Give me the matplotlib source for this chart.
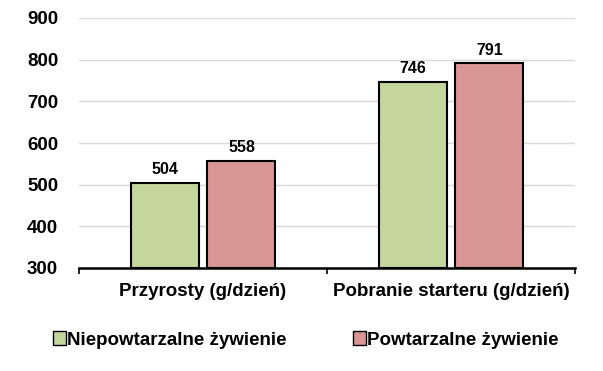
import numpy as np
from matplotlib import pyplot as plt
from matplotlib.patches import Patch

categories = ["Przyrosty (g/dzień)", "Pobranie starteru (g/dzień)"]
series_names = ["Niepowtarzalne żywienie", "Powtarzalne żywienie"]
values_a = [504, 746]
values_b = [558, 791]
yticks = [300, 400, 500, 600, 700, 800, 900]

green = "#C3D69B"
red = "#D99694"

plt.rcParams['font.family'] = ['Liberation Sans', 'DejaVu Sans']
plt.rcParams['font.weight'] = 'bold'

fig = plt.figure(figsize=(6.03, 3.71), dpi=100)
ax = fig.add_axes([79 / 603, 1 - 268 / 371, 496 / 603, 250 / 371])

x = np.arange(len(categories))
w = 0.274
off = 0.155
b1 = ax.bar(x - off, np.array(values_a) - 300, w, bottom=300, color=green,
            edgecolor="black", linewidth=1.5, zorder=3)
b2 = ax.bar(x + off, np.array(values_b) - 300, w, bottom=300, color=red,
            edgecolor="black", linewidth=1.5, zorder=3)

for bars, vals in ((b1, values_a), (b2, values_b)):
    for r, v in zip(bars, vals):
        ax.text(r.get_x() + r.get_width() / 2, v + 14, str(v), ha="center",
                va="bottom", fontsize=11.5, fontweight="bold")

ax.set_xlim(-0.5, 1.5)
ax.set_ylim(300, 900)
ax.set_yticks(yticks)
ax.set_yticklabels([str(t) for t in yticks], fontsize=13.5, fontweight="bold")
ax.tick_params(axis="y", length=0, pad=15)
ax.set_xticks([-0.5, 0.5, 1.5])
ax.set_xticklabels([])
ax.set_xticks(x, minor=True)
ax.set_xticklabels(categories, minor=True, fontsize=13.5, fontweight="bold")
ax.tick_params(axis="x", which="major", length=4, width=1.2, direction="out")
ax.tick_params(axis="x", which="minor", length=0, pad=11)

ax.grid(axis="y", color="#D9D9D9", linewidth=1)
for s in ("top", "right", "left"):
    ax.spines[s].set_visible(False)
ax.spines["bottom"].set_linewidth(1.8)
ax.spines["bottom"].set_zorder(4)

handles = [Patch(facecolor=green, edgecolor="black", linewidth=1),
           Patch(facecolor=red, edgecolor="black", linewidth=1)]
fig.legend(handles, series_names, loc="center", bbox_to_anchor=(0.507, 1 - 340 / 371),
           ncol=2, frameon=False, handlelength=0.7, handleheight=0.7,
           handletextpad=0.05, columnspacing=3.5, prop={"weight": "bold", "size": 13.5})

fig.savefig("out.png", dpi=100)
